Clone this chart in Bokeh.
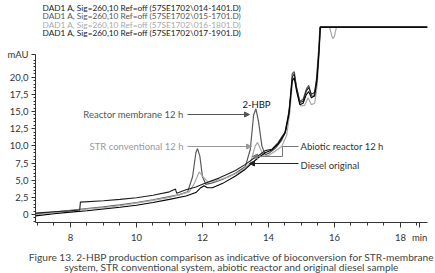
from bokeh.plotting import figure
from bokeh.models import (Range1d, FixedTicker, CustomJSTickFormatter, Label, Arrow, NormalHead, Title)
from bokeh.embed import file_html
from bokeh.resources import INLINE

# ---- data (time in min, absorbance in mAU) ----
t_membrane = [6.94, 7.5, 8.0, 8.5, 9.0, 9.5, 10.0, 10.5, 11.0, 11.3, 11.55, 11.7, 11.8, 11.85, 11.92, 12.0,
              12.1, 12.3, 12.6, 13.0, 13.3, 13.45, 13.55, 13.62, 13.7, 13.8, 13.9, 14.0, 14.2, 14.4, 14.55,
              14.65, 14.72, 14.78, 14.85, 14.95, 15.05, 15.15, 15.22, 15.3, 15.38, 15.45, 15.52, 15.56, 18.82]
v_membrane = [0.1, 0.35, 0.6, 0.85, 1.1, 1.4, 1.75, 2.15, 2.6, 2.9, 3.3, 5.5, 9.0, 9.6, 8.5, 5.5,
              4.4, 4.6, 5.1, 6.0, 7.0, 9.5, 14.5, 15.4, 13.5, 10.0, 8.7, 8.9, 9.6, 10.8, 12.5,
              16.0, 20.5, 20.8, 18.5, 16.5, 16.8, 18.3, 18.8, 17.3, 17.2, 19.5, 24.0, 27.3, 27.3]

t_str = [6.94, 7.5, 8.0, 8.5, 9.0, 9.5, 10.0, 10.5, 11.0, 11.3, 11.6, 11.75, 11.9, 12.0, 12.15, 12.4,
         12.8, 13.2, 13.45, 13.6, 13.67, 13.75, 13.85, 14.0, 14.2, 14.4, 14.55, 14.65, 14.73, 14.8,
         14.88, 14.98, 15.1, 15.2, 15.3, 15.4, 15.48, 15.54, 15.58, 15.85, 15.92, 15.96, 16.0, 16.06, 17.85]
v_str = [0.0, 0.3, 0.55, 0.8, 1.0, 1.3, 1.65, 2.05, 2.5, 2.9, 3.3, 4.5, 6.2, 5.6, 4.8, 4.9,
         5.5, 6.4, 7.5, 10.0, 10.5, 9.6, 8.5, 8.6, 9.2, 9.9, 11.5, 15.0, 19.5, 19.8,
         17.5, 15.8, 15.9, 17.0, 16.0, 16.2, 19.0, 24.0, 27.3, 27.3, 26.0, 25.6, 26.0, 27.3, 27.3]

t_abiotic = [6.94, 7.5, 8.0, 8.28, 8.3, 9.0, 9.5, 10.0, 10.5, 11.0, 11.18, 11.22, 11.5, 11.8, 12.0, 12.5,
             13.0, 13.3, 13.5, 13.7, 13.9, 14.1, 14.3, 14.5, 14.62, 14.72, 14.78, 14.85, 14.95, 15.05,
             15.15, 15.22, 15.3, 15.4, 15.47, 15.53, 15.57, 18.82]
v_abiotic = [0.2, 0.4, 0.55, 0.65, 1.8, 2.0, 2.2, 2.45, 2.8, 3.3, 3.7, 3.1, 3.6, 4.0, 4.4, 5.3,
             6.4, 7.3, 8.0, 8.6, 9.3, 9.5, 10.5, 12.0, 15.0, 20.0, 20.5, 18.5, 16.3, 16.5,
             18.0, 18.5, 17.5, 17.8, 20.0, 24.0, 27.3, 27.3]

t_diesel = [6.94, 7.5, 8.0, 8.5, 9.0, 9.5, 10.0, 10.5, 11.0, 11.5, 11.8, 11.95, 12.05, 12.15, 12.3, 12.6,
            13.0, 13.3, 13.5, 13.7, 13.9, 14.1, 14.3, 14.5, 14.62, 14.72, 14.78, 14.85, 14.95, 15.05,
            15.15, 15.22, 15.3, 15.4, 15.47, 15.53, 15.57, 18.82]
v_diesel = [-0.2, 0.1, 0.35, 0.55, 0.8, 1.05, 1.35, 1.75, 2.2, 2.7, 3.2, 3.9, 4.2, 3.9, 3.9, 4.5,
            5.6, 6.6, 7.5, 8.3, 9.0, 9.4, 10.3, 11.8, 14.5, 19.5, 19.9, 18.0, 16.0, 16.2,
            17.5, 17.9, 17.0, 17.3, 19.5, 23.5, 27.3, 27.3]

header_lines = ["DAD1 A, Sig=260,10 Ref=off (57SE1702\\014-1401.D)",
                "DAD1 A, Sig=260,10 Ref=off (57SE1702\\015-1701.D)",
                "DAD1 A, Sig=260,10 Ref=off (57SE1702\\016-1801.D)",
                "DAD1 A, Sig=260,10 Ref=off (57SE1702\\017-1901.D)"]
header_colors = ["#222222", "#555555", "#aaaaaa", "#222222"]
x_ticks = [8, 10, 12, 14, 16, 18]
x_unit_tick = 18.58   # where the "min" unit label sits
y_ticks = [0, 2.5, 5, 7.5, 10, 12.5, 15, 17.5, 20]
caption = ["Figure 13. 2-HBP production comparison as indicative of bioconversion for STR-membrane",
           "system, STR conventional system, abiotic reactor and original diesel sample"]

FONT = "Lato"

# pixel helpers for annotation placement only
def tx(px):
    return 6.94 + (px - 35) / 33.0

def vy(py):
    return (214 - py) / 6.865

W, H = 435, 273
p = figure(width=W, height=H, output_backend="svg", toolbar_location=None,
           x_range=Range1d(tx(35), tx(427)), y_range=Range1d(vy(222), vy(1)),
           min_border_left=35, min_border_right=8, min_border_top=1, min_border_bottom=51)
p.outline_line_color = None
p.xgrid.visible = False
p.ygrid.visible = False
p.background_fill_color = "white"
p.border_fill_color = "white"

p.line(t_membrane, v_membrane, line_color="#5a5a5a", line_width=1.2)
p.line(t_str, v_str, line_color="#a8a8a8", line_width=1.2)
p.line(t_abiotic, v_abiotic, line_color="#1e1e1e", line_width=1.1)
p.line(t_diesel, v_diesel, line_color="#000000", line_width=1.1)

# axes
mau_tick = vy(54)
xa = p.xaxis[0]
xa.ticker = FixedTicker(ticks=x_ticks + [x_unit_tick], minor_ticks=[7 + 0.5 * i for i in range(24)])
xa.formatter = CustomJSTickFormatter(code="return tick > 18.3 ? 'min' : tick.toFixed(0);")
xa.axis_line_color = "#333333"
xa.major_tick_line_color = "#333333"
xa.minor_tick_line_color = "#333333"
xa.major_tick_out = 5
xa.major_tick_in = 0
xa.minor_tick_out = 3
xa.minor_tick_in = 0
xa.major_label_text_font = FONT
xa.major_label_text_font_size = "9.5px"
xa.major_label_text_color = "#333333"
xa.major_label_standoff = 4

ya = p.yaxis[0]
ya.bounds = (vy(222), mau_tick)
ya.ticker = FixedTicker(ticks=y_ticks + [mau_tick], minor_ticks=[-1.0 + 0.5 * i for i in range(48)])
ya.formatter = CustomJSTickFormatter(
    code="if (tick > 22) { return 'mAU'; } return tick == 0 ? '0' : tick.toFixed(1).replace('.', ',');")
ya.axis_line_color = "#333333"
ya.major_tick_line_color = "#333333"
ya.minor_tick_line_color = "#333333"
ya.major_tick_out = 4
ya.major_tick_in = 0
ya.minor_tick_out = 2
ya.minor_tick_in = 0
ya.major_label_text_font = FONT
ya.major_label_text_font_size = "9.5px"
ya.major_label_text_color = "#333333"
ya.major_label_standoff = 3

# header lines (inside the frame area, which starts near the top edge)
for i, (txt, col) in enumerate(zip(header_lines, header_colors)):
    p.add_layout(Label(x=tx(42), y=vy(7 + 8.5 * i), text=txt, text_color=col, text_font=FONT,
                       text_font_size="8.3px", text_baseline="middle", text_align="left"))

# caption: two centred titles below the x axis
cap1 = Title(text=caption[0], align="center", standoff=5.6, vertical_align="bottom",
             text_font=FONT, text_font_size="10.2px", text_font_style="normal", text_color="#444444")
cap2 = Title(text=caption[1], align="center", standoff=-9.6, vertical_align="top",
             text_font=FONT, text_font_size="10.2px", text_font_style="normal", text_color="#444444")
p.add_layout(cap1, "below")
p.add_layout(cap2, "below")

# annotations
def arrow(x0, y0, x1, y1, col):
    p.add_layout(Arrow(end=NormalHead(size=5, fill_color=col, line_color=col),
                       x_start=tx(x0), y_start=vy(y0), x_end=tx(x1), y_end=vy(y1),
                       line_color=col, line_width=1))

def ann(x, y, txt, col, align):
    p.add_layout(Label(x=tx(x), y=vy(y), text=txt, text_font=FONT, text_font_size="9.5px",
                       text_baseline="middle", text_align=align, text_color=col))

ann(183, 114, "Reactor membrane 12 h", "#555555", "right")
arrow(187, 114, 249, 114, "#555555")
ann(183, 146, "STR conventional 12 h", "#999999", "right")
arrow(187, 146, 251, 146, "#999999")
ann(256, 104, "2-HBP", "#111111", "center")

ann(300, 146, "Abiotic reactor 12 h", "#333333", "left")
p.line([tx(298), tx(282), tx(282), tx(262)], [vy(146), vy(146), vy(156), vy(156)],
       line_color="#777777", line_width=1)
arrow(262, 156, 252, 156, "#777777")
ann(300, 165, "Diesel original", "#333333", "left")
arrow(298, 163, 249, 163, "#222222")

open("out.html", "w").write(file_html(p, INLINE))
